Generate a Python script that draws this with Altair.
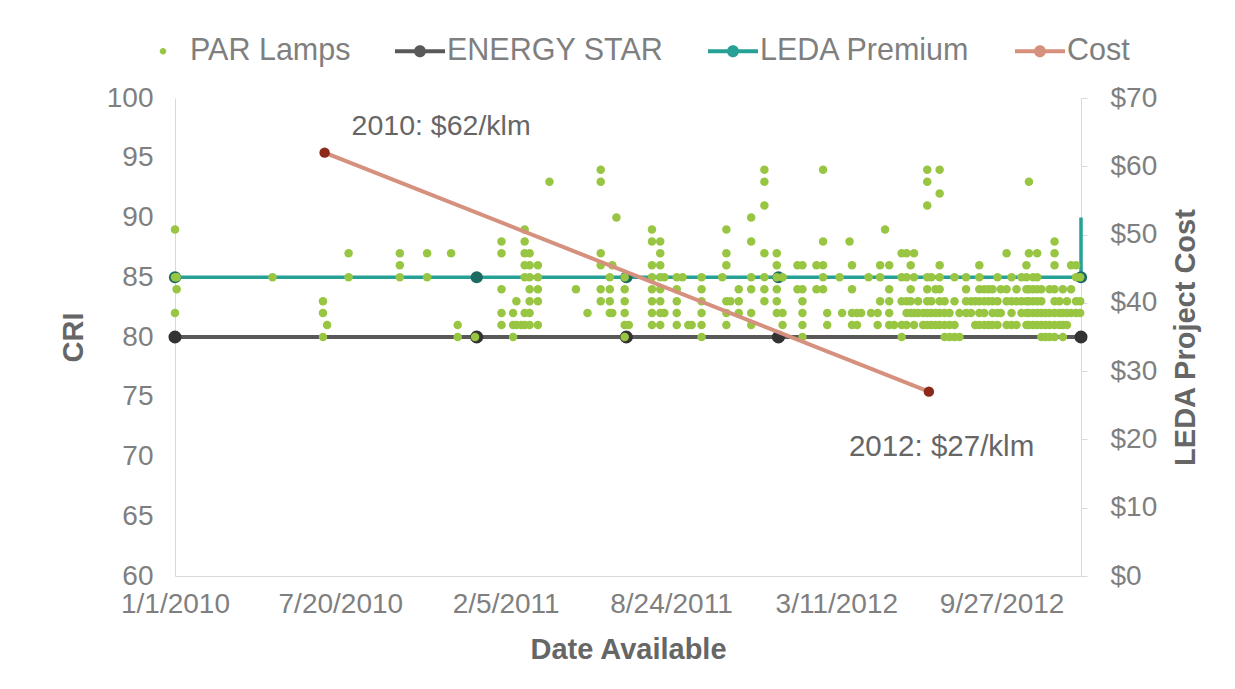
import altair as alt
import pandas as pd

# ---------------- data ----------------
par_dates = [
    "2010-01-01", "2010-01-03", "2010-04-29", "2010-06-29", "2010-07-04", "2010-07-30",
    "2010-09-30", "2010-11-02", "2010-12-01", "2010-12-09", "2010-12-30",
    "2011-01-31", "2011-02-14", "2011-02-18", "2011-02-24", "2011-02-28", "2011-03-06",
    "2011-03-16", "2011-03-30", "2011-05-01", "2011-05-15", "2011-05-31", "2011-06-11",
    "2011-06-14", "2011-06-19", "2011-06-29", "2011-07-04", "2011-08-01", "2011-08-11",
    "2011-08-16", "2011-08-31", "2011-09-07", "2011-09-14", "2011-09-18", "2011-09-30",
    "2011-10-25", "2011-10-30", "2011-11-04", "2011-11-14", "2011-11-29", "2011-12-15",
    "2011-12-30", "2012-01-06", "2012-01-24", "2012-01-30", "2012-02-16", "2012-02-24",
    "2012-02-29", "2012-03-15", "2012-03-18", "2012-03-27", "2012-03-30", "2012-04-05",
    "2012-04-10", "2012-04-19", "2012-04-22", "2012-04-30", "2012-05-03", "2012-05-09",
    "2012-05-14", "2012-05-20", "2012-05-29", "2012-06-04", "2012-06-09", "2012-06-13",
    "2012-06-18", "2012-06-24", "2012-06-29", "2012-07-04", "2012-07-09", "2012-07-14",
    "2012-07-20", "2012-07-26", "2012-08-01", "2012-08-07", "2012-08-15", "2012-08-21",
    "2012-08-26", "2012-08-31", "2012-09-06", "2012-09-11", "2012-09-16", "2012-09-22",
    "2012-09-26", "2012-10-03", "2012-10-09", "2012-10-15", "2012-10-21", "2012-10-27",
    "2012-10-30", "2012-11-04", "2012-11-09", "2012-11-14", "2012-11-19", "2012-11-24",
    "2012-11-30", "2012-12-06", "2012-12-10", "2012-12-15", "2012-12-20", "2012-12-26",
    "2012-12-31",
]
par_cri = [
    [89, 85, 82], [85, 84], [85], [83, 82, 80], [81], [87, 85],
    [87, 86, 85], [87, 85], [87], [81, 80], [80],
    [88, 87, 84, 82, 81], [82, 81, 80], [83, 81], [81], [89, 88, 87, 86, 85, 82, 81], [87, 86, 85, 84, 83, 82, 81],
    [86, 85, 84, 83, 81], [93], [84], [82], [94, 93, 87, 86, 84, 83], [85, 84, 83, 82],
    [86, 82], [90], [85, 84, 83, 82, 81, 80], [81], [89, 88, 86, 85, 84, 83, 82, 81], [88, 87, 86, 85, 84, 83, 82, 81],
    [85, 82], [85, 84, 83, 82, 81], [85], [81], [81], [85, 84, 83, 82, 81, 80],
    [85], [89, 87, 86, 83, 82, 81], [83], [84, 83, 82], [90, 88, 85, 84, 82, 81], [94, 93, 91, 87, 85, 84, 83],
    [87, 86, 85, 84, 83, 82], [85, 82, 81], [86, 84], [86, 84, 83, 82, 81, 80], [86, 84], [94, 88, 86, 85, 84],
    [82, 81], [85], [82], [88], [86, 84, 82, 81], [82, 81],
    [82], [85], [82], [82, 81], [86, 85, 83], [89],
    [86, 84, 83, 82, 81], [81], [87, 85, 83, 81, 80], [87, 85, 83, 82, 81], [86, 84, 83, 82], [87, 85, 82, 81],
    [83, 82], [82, 81], [94, 93, 91, 85, 84, 83, 82, 81], [85, 83, 82, 81], [84, 82, 81], [94, 92, 86, 85, 84, 83, 82, 81],
    [83, 82, 81, 80], [82, 81, 80], [85, 83, 81, 80], [82, 80], [85, 84, 83, 82], [83, 82],
    [83, 81], [86, 85, 84, 83, 82, 81], [84, 83, 82, 81], [84, 83, 81], [84, 83, 82, 81], [85, 83, 82, 81],
    [84, 82], [87, 84, 83, 81], [85, 83, 82, 81], [84, 83, 81], [85, 83, 82], [86, 85, 84, 83, 82, 81],
    [93, 87, 84, 83, 82, 81], [85, 84, 83, 82, 81], [87, 85, 84, 83, 82, 81], [84, 83, 82, 81, 80], [82, 81, 80], [84, 82, 81, 80],
    [88, 87, 86, 84, 83, 82, 81, 80], [83, 82, 81], [84, 82, 81, 80], [83, 82, 81], [86, 84, 82], [86, 85, 83, 82],
    [85, 83, 82],
]

ref_dates = ["2010-01-01", "2011-01-01", "2011-07-01", "2012-01-01", "2013-01-01"]
energy_star_cri = [80, 80, 80, 80, 80]
leda_line_dates = ["2010-01-01", "2011-01-01", "2011-07-01", "2012-01-01", "2013-01-01", "2013-01-01"]
leda_line_cri = [85, 85, 85, 85, 85, 90]
leda_marker_cri = [85, 85, 85, 85, 85]

cost_dates = ["2010-07-01", "2012-07-01"]
cost_values = [62, 27]
cost_labels = ["2010: $62/klm", "2012: $27/klm"]

series_names = ["PAR Lamps", "ENERGY STAR", "LEDA Premium", "Cost"]
x_tick_dates = ["2010-01-01", "2010-07-20", "2011-02-05", "2011-08-24", "2012-03-11", "2012-09-27"]
x_domain = ["2010-01-01", "2013-01-01"]

# ---------------- styles ----------------
GREEN = "#98C643"
ES_LINE = "#595959"
ES_DOT = "#333333"
LEDA_LINE = "#27A096"
LEDA_DOT = "#1C6B63"
COST_LINE = "#D6907E"
COST_DOT = "#8B2A1A"
TXT = "#7F7F7F"
TITLE = "#666666"
FONT = "Liberation Sans"


def dt(s):
    t = pd.Timestamp(s)
    return alt.DateTime(year=t.year, month=t.month, date=t.day, utc=True)


rows = []
for d, vals in zip(par_dates, par_cri):
    for v in vals:
        rows.append({"date": d, "cri": v})
par_df = pd.DataFrame(rows)
es_df = pd.DataFrame({"date": ref_dates, "cri": energy_star_cri})
leda_line_df = pd.DataFrame({"date": leda_line_dates, "cri": leda_line_cri})
leda_mark_df = pd.DataFrame({"date": ref_dates, "cri": leda_marker_cri})
cost_df = pd.DataFrame({"date": cost_dates, "cost": cost_values, "label": cost_labels})
legend_df = pd.DataFrame({"series": series_names})

x_enc = alt.X(
    "date:T",
    scale=alt.Scale(type="utc", domain=[dt(x_domain[0]), dt(x_domain[1])]),
    axis=alt.Axis(
        values=[dt(v) for v in x_tick_dates],
        format="%-m/%-d/%Y",
        title="Date Available",
        grid=False,
        ticks=False,
        domainColor="#D9D9D9",
        labelPadding=14,
        titlePadding=17,
        labelOverlap=False,
        labelFlush=False,
        labelBound=False,
    ),
)

y_left = alt.Y(
    "cri:Q",
    scale=alt.Scale(domain=[60, 100], nice=False, zero=False),
    axis=alt.Axis(
        values=[60, 65, 70, 75, 80, 85, 90, 95, 100],
        title="CRI",
        grid=False,
        ticks=False,
        domainColor="#D9D9D9",
        labelPadding=22,
        titlePadding=18,
    ),
)

y_right = alt.Y(
    "cost:Q",
    scale=alt.Scale(domain=[0, 70], nice=False),
    axis=alt.Axis(
        orient="right",
        values=[0, 10, 20, 30, 40, 50, 60, 70],
        format="$,.0f",
        title="LEDA Project Cost",
        titleAngle=270,
        titleBaseline="top",
        grid=False,
        ticks=True,
        tickSize=6,
        tickColor="#D9D9D9",
        domainColor="#D9D9D9",
        labelPadding=23,
        titlePadding=15,
    ),
)

# legend symbol shapes (unit box -1..1)
dot_path = "M-0.13,0 A0.13,0.13 0 1,1 0.13,0 A0.13,0.13 0 1,1 -0.13,0 Z"
line_path = ("M-1,-0.08 L-0.22,-0.08 L-0.22,0.08 L-1,0.08 Z "
             "M0.22,-0.08 L1,-0.08 L1,0.08 L0.22,0.08 Z "
             "M-0.24,0 A0.24,0.24 0 1,1 0.24,0 A0.24,0.24 0 1,1 -0.24,0 Z")

legend_props = dict(
    title=None, orient="none", direction="horizontal",
    legendX=-37, legendY=-72, symbolSize=2500, symbolStrokeWidth=0,
    labelFontSize=30.5, labelColor=TXT, labelFont=FONT, labelOffset=2,
    labelLimit=500, columnPadding=44, symbolOpacity=1,
)

legend_layer = alt.Chart(legend_df).transform_filter("false").mark_point(
    filled=True, size=2500, opacity=1
).encode(
    color=alt.Color(
        "series:N",
        scale=alt.Scale(domain=series_names, range=[GREEN, ES_LINE, LEDA_LINE, COST_LINE]),
        legend=alt.Legend(**legend_props),
    ),
    shape=alt.Shape(
        "series:N",
        scale=alt.Scale(domain=series_names, range=[dot_path, line_path, line_path, line_path]),
        legend=alt.Legend(**legend_props),
    ),
)

es_line = alt.Chart(es_df).mark_line(color=ES_LINE, strokeWidth=4).encode(x=x_enc, y=y_left)
es_pts = alt.Chart(es_df).mark_point(filled=True, color=ES_DOT, size=170, opacity=1).encode(x=x_enc, y=y_left)
leda_line = alt.Chart(leda_line_df).mark_line(color=LEDA_LINE, strokeWidth=3.5).encode(x=x_enc, y=y_left)
leda_pts = alt.Chart(leda_mark_df).mark_point(filled=True, color=LEDA_DOT, size=150, opacity=1).encode(x=x_enc, y=y_left)
par_pts = alt.Chart(par_df).mark_circle(color=GREEN, size=72, opacity=1).encode(x=x_enc, y=y_left)

left = alt.layer(es_line, leda_line, es_pts, leda_pts, par_pts, legend_layer)

cost_line = alt.Chart(cost_df).mark_line(color=COST_LINE, strokeWidth=4).encode(x=x_enc, y=y_right)
cost_pts = alt.Chart(cost_df).mark_point(filled=True, color=COST_DOT, size=110, opacity=1).encode(x=x_enc, y=y_right)
cost_txt1 = alt.Chart(cost_df).transform_filter(alt.datum.cost > 50).mark_text(
    align="left", baseline="middle", dx=27, dy=-27, fontSize=28.5, color=TITLE, font=FONT
).encode(x=x_enc, y=y_right, text="label:N")
cost_txt2 = alt.Chart(cost_df).transform_filter(alt.datum.cost < 50).mark_text(
    align="left", baseline="middle", dx=-80, dy=55, fontSize=29.5, color=TITLE, font=FONT
).encode(x=x_enc, y=y_right, text="label:N")

right = alt.layer(cost_line, cost_pts, cost_txt1, cost_txt2)

chart = alt.layer(left, right).resolve_scale(y="independent").properties(
    width=906,
    height=478,
    autosize=alt.AutoSizeParams(type="none"),
    padding={"left": 167, "top": 90, "right": 146, "bottom": 103},
    background="white",
).configure_view(stroke=None).configure_axis(
    labelFont=FONT, titleFont=FONT, labelFontSize=28, titleFontSize=29,
    labelColor=TXT, titleColor=TITLE, titleFontWeight="bold",
)

chart.save("out.html", embed_options={"renderer": "svg", "actions": False})
